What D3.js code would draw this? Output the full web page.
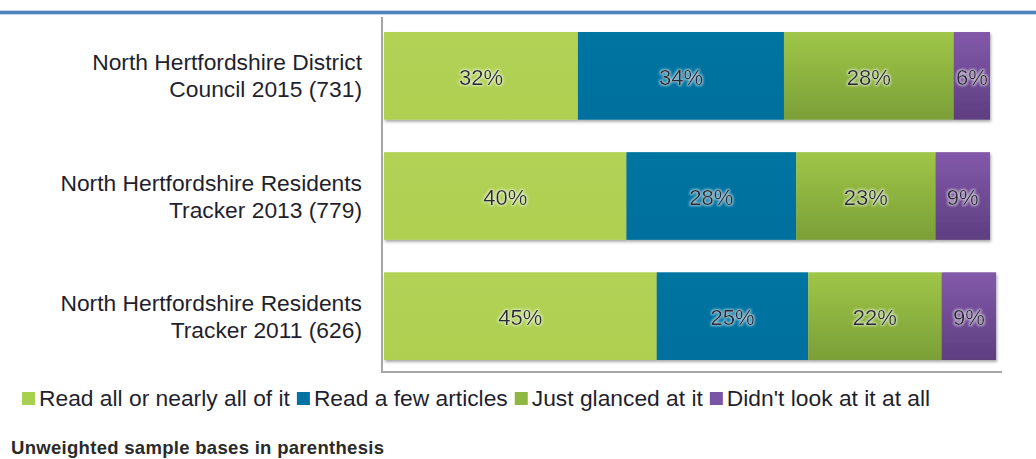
<!DOCTYPE html>
<html>
<head>
<meta charset="utf-8">
<script src="https://cdn.jsdelivr.net/npm/d3@7"></script>
<style>
  body { margin: 0; background: #fff; }
  svg { display: block; font-family: "Liberation Sans", Arial, sans-serif; }
</style>
</head>
<body>
<div id="chart"></div>
<script>
// Rows, top to bottom
const categories = [
  ["North Hertfordshire District", "Council 2015 (731)"],
  ["North Hertfordshire Residents", "Tracker 2013 (779)"],
  ["North Hertfordshire Residents", "Tracker 2011 (626)"]
];

const seriesNames = ["Read all or nearly all of it", "Read a few articles", "Just glanced at it", "Didn't look at it at all"];

// values per series, one per row
const readAll = [32, 40, 45];
const readFew = [34, 28, 25];
const glanced = [28, 23, 22];
const didntLook = [6, 9, 9];

const footnote = "Unweighted sample bases in parenthesis";

const width = 1036;
const height = 459;

const seriesValues = [readAll, readFew, glanced, didntLook];
// top / bottom colours for each series fill
const colors = [
  ["#b1d255", "#aecf50"],
  ["#0074a2", "#00709e"],
  ["#9fc648", "#7b9f37"],
  ["#8259aa", "#5e3e80"]
];
const legendColors = ["#a9cf4f", "#0072a3", "#8fb840", "#7a55a5"];

const svg = d3.select("#chart").append("svg")
  .attr("width", width)
  .attr("height", height);

const defs = svg.append("defs");

colors.forEach((c, i) => {
  const g = defs.append("linearGradient")
    .attr("id", "grad" + i)
    .attr("x1", 0).attr("y1", 0).attr("x2", 0).attr("y2", 1);
  g.append("stop").attr("offset", "0%").attr("stop-color", c[0]);
  g.append("stop").attr("offset", "100%").attr("stop-color", c[1]);
});

// soft shadow under the bars
const shadow = defs.append("filter").attr("id", "shadow")
  .attr("x", "-5%").attr("y", "-5%").attr("width", "110%").attr("height", "130%");
shadow.append("feGaussianBlur").attr("in", "SourceAlpha").attr("stdDeviation", 1.5);
shadow.append("feOffset").attr("dx", 1).attr("dy", 2).attr("result", "off");
shadow.append("feComponentTransfer").append("feFuncA").attr("type", "linear").attr("slope", 0.35);
const merge = shadow.append("feMerge");
merge.append("feMergeNode");
merge.append("feMergeNode").attr("in", "SourceGraphic");

// glow round the value labels
const glow = defs.append("filter").attr("id", "glow")
  .attr("x", "-20%").attr("y", "-30%").attr("width", "140%").attr("height", "160%");
glow.append("feMorphology").attr("in", "SourceAlpha").attr("operator", "dilate").attr("radius", 1).attr("result", "dil");
glow.append("feGaussianBlur").attr("in", "dil").attr("stdDeviation", 1.2).attr("result", "blur");
glow.append("feFlood").attr("flood-color", "#ffffff").attr("flood-opacity", 0.55);
glow.append("feComposite").attr("in2", "blur").attr("operator", "in").attr("result", "halo");
const gm = glow.append("feMerge");
gm.append("feMergeNode").attr("in", "halo");
gm.append("feMergeNode").attr("in", "SourceGraphic");

// top rule
svg.append("rect")
  .attr("x", 0).attr("y", 10).attr("width", width).attr("height", 5)
  .attr("fill", "#c5d6ec");
svg.append("rect")
  .attr("x", 0).attr("y", 11).attr("width", width).attr("height", 3)
  .attr("fill", "#4f81bd");

// Scales
const x = d3.scaleLinear().domain([0, 100]).range([384, 990]);
const y = d3.scaleBand()
  .domain(d3.range(categories.length))
  .range([20, 372])
  .paddingInner(0.27)
  .paddingOuter(0.1);

// Stack the series
const rows = categories.map((c, i) => {
  const r = { i };
  seriesValues.forEach((s, k) => { r["s" + k] = s[i]; });
  return r;
});
const stack = d3.stack().keys(seriesValues.map((s, k) => "s" + k));
const stacked = stack(rows);

const barsG = svg.append("g").attr("filter", "url(#shadow)");
stacked.forEach((layer, k) => {
  barsG.selectAll(".seg" + k)
    .data(layer)
    .enter()
    .append("rect")
    .attr("x", d => x(d[0]))
    .attr("width", d => x(d[1]) - x(d[0]))
    .attr("y", d => y(d.data.i))
    .attr("height", y.bandwidth())
    .attr("fill", `url(#grad${k})`);
});

// Value labels
stacked.forEach((layer, k) => {
  svg.selectAll(".lab" + k)
    .data(layer)
    .enter()
    .append("text")
    .attr("x", d => (x(d[0]) + x(d[1])) / 2)
    .attr("y", d => y(d.data.i) + y.bandwidth() / 2 + 9)
    .attr("text-anchor", "middle")
    .attr("filter", "url(#glow)")
    .style("font-size", "22px")
    .style("fill", "#2a2a38")
    .text(d => (d[1] - d[0]) + "%");
});

// Axes lines
svg.append("line")
  .attr("x1", 382).attr("x2", 382).attr("y1", 17).attr("y2", 373)
  .attr("stroke", "#a6a6a6").attr("stroke-width", 2);
svg.append("line")
  .attr("x1", 381).attr("x2", 1002).attr("y1", 372).attr("y2", 372)
  .attr("stroke", "#a6a6a6").attr("stroke-width", 2);

// Category labels
categories.forEach((lines, i) => {
  const cy = y(i) + y.bandwidth() / 2;
  const t = svg.append("text")
    .attr("text-anchor", "end")
    .style("font-size", "22.8px")
    .style("fill", "#1f1f2e");
  lines.forEach((ln, j) => {
    t.append("tspan")
      .attr("x", 362)
      .attr("y", cy + (j - 0.5) * 27 + 8)
      .text(ln);
  });
});

// Legend: items flow left to right
const legend = svg.append("g");
let lx = 22;
seriesNames.forEach((name, k) => {
  legend.append("rect")
    .attr("x", lx).attr("y", 392)
    .attr("width", 13).attr("height", 13)
    .attr("fill", legendColors[k]);
  const t = legend.append("text")
    .attr("x", lx + 17).attr("y", 406)
    .style("font-size", "22.8px")
    .style("fill", "#1f1f2e")
    .text(name);
  lx += 17 + t.node().getComputedTextLength() + 7;
});

// Footnote
svg.append("text")
  .attr("x", 11).attr("y", 454)
  .style("font-size", "18.5px")
  .style("font-weight", "bold")
  .style("letter-spacing", "0.3px")
  .style("fill", "#2a2a2a")
  .text(footnote);
</script>
</body>
</html>
